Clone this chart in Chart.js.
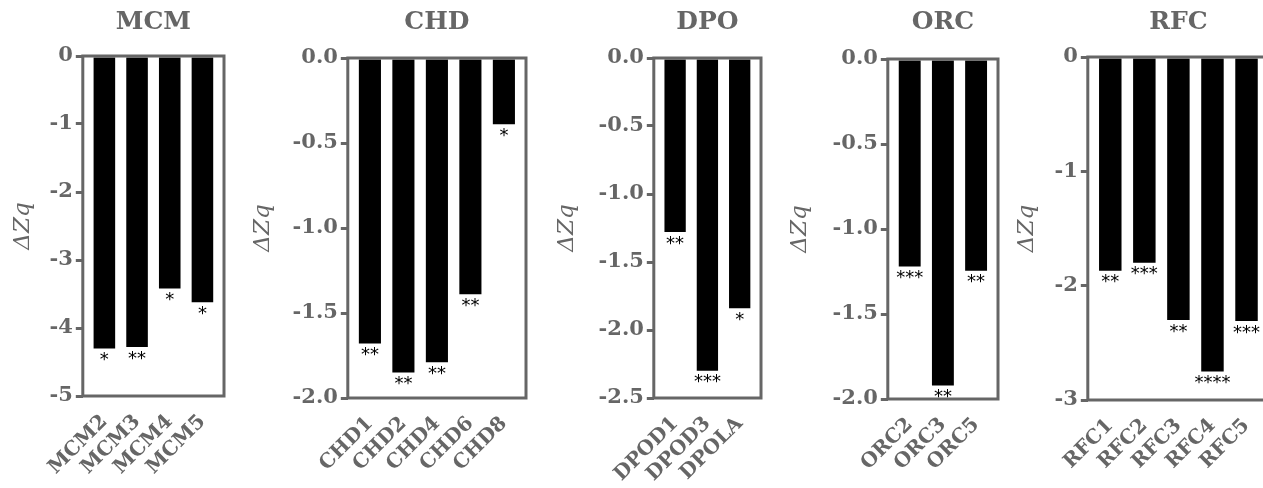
<!DOCTYPE html>
<html><head><meta charset="utf-8">
<script src="https://cdn.jsdelivr.net/npm/chart.js@4.4.1/dist/chart.umd.min.js"></script>
<style>
html,body{margin:0;padding:0;background:#fff;width:1263px;height:488px;overflow:hidden;position:relative}
canvas{position:absolute;top:0}
</style></head><body>
<script>
// ---- data ----
const mcmCategories = ['MCM2','MCM3','MCM4','MCM5'];
const mcmValues = [-4.30, -4.28, -3.42, -3.62];
const mcmStars = ['*','**','*','*'];
const mcmTicks = ['0','-1','-2','-3','-4','-5'];

const chdCategories = ['CHD1','CHD2','CHD4','CHD6','CHD8'];
const chdValues = [-1.68, -1.85, -1.79, -1.39, -0.39];
const chdStars = ['**','**','**','**','*'];
const chdTicks = ['0.0','-0.5','-1.0','-1.5','-2.0'];

const dpoCategories = ['DPOD1','DPOD3','DPOLA'];
const dpoValues = [-1.28, -2.30, -1.84];
const dpoStars = ['**','***','*'];
const dpoTicks = ['0.0','-0.5','-1.0','-1.5','-2.0','-2.5'];

const orcCategories = ['ORC2','ORC3','ORC5'];
const orcValues = [-1.22, -1.92, -1.245];
const orcStars = ['***','**','**'];
const orcTicks = ['0.0','-0.5','-1.0','-1.5','-2.0'];

const rfcCategories = ['RFC1','RFC2','RFC3','RFC4','RFC5'];
const rfcValues = [-1.87, -1.80, -2.30, -2.75, -2.31];
const rfcStars = ['**','***','**','****','***'];
const rfcTicks = ['0','-1','-2','-3'];

const yAxisTitle = 'ΔZq';

// ---- layout / style ----
const GRAY = '#666';
const H = 488;
const panels = [
  {title:'MCM', cats:mcmCategories, vals:mcmValues, stars:mcmStars, ticks:mcmTicks, L:82.7, R:224.3, T:56, B:396, d:60},
  {title:'CHD', cats:chdCategories, vals:chdValues, stars:chdStars, ticks:chdTicks, L:348, R:526.5, T:58, B:398, d:85},
  {title:'DPO', cats:dpoCategories, vals:dpoValues, stars:dpoStars, ticks:dpoTicks, L:654, R:761, T:58, B:398, d:87},
  {title:'ORC', cats:orcCategories, vals:orcValues, stars:orcStars, ticks:orcTicks, L:888, R:998, T:59, B:399, d:88},
  {title:'RFC', cats:rfcCategories, vals:rfcValues, stars:rfcStars, ticks:rfcTicks, L:1088, R:1269, T:57, B:400, d:61}
];

const boxPlugin = {
  id:'box',
  afterDatasetsDraw(chart){
    const {ctx, chartArea:a} = chart;
    ctx.save();
    ctx.strokeStyle = GRAY; ctx.lineWidth = 3;
    ctx.strokeRect(a.left, a.top, a.right - a.left, a.bottom - a.top);
    ctx.restore();
  }
};

function starPlugin(stars){
  return {
    id:'stars',
    afterDatasetsDraw(chart){
      const {ctx} = chart;
      const meta = chart.getDatasetMeta(0);
      ctx.save();
      ctx.font = '18px "DejaVu Sans"';
      ctx.fillStyle = '#000';
      ctx.textAlign = 'center';
      ctx.textBaseline = 'top';
      meta.data.forEach((bar, i) => ctx.fillText(stars[i], bar.x, bar.y + 3));
      ctx.restore();
    }
  };
}

panels.forEach(p => {
  const titleSize = 25, titleLH = titleSize * 1.2, titleTop = 7;
  const yTitleSize = 23;
  const yw = p.d + yTitleSize * 1.2 / 2;
  const rightPad = 14;
  const cw = Math.round(yw + (p.R - p.L) + rightPad);
  const c = document.createElement('canvas');
  c.width = cw; c.height = H;
  c.style.left = (p.L - yw) + 'px';
  document.body.appendChild(c);
  const tickVals = p.ticks.map(Number);
  const n = p.cats.length;
  new Chart(c, {
    type:'bar',
    data:{datasets:[{
      data: p.vals.map((v, i) => ({x:i, y:v})),
      backgroundColor:'#000', borderWidth:0,
      barPercentage:0.66, categoryPercentage:1
    }]},
    options:{
      responsive:false, animation:false, devicePixelRatio:1,
      layout:{padding:{left:0, right:rightPad, top:0, bottom:0}},
      plugins:{
        legend:{display:false}, tooltip:{enabled:false},
        title:{display:true, text:p.title, fullSize:false, color:GRAY,
          font:{family:'DejaVu Serif', size:titleSize, weight:'bold', lineHeight:1.2},
          padding:{top:titleTop, bottom:p.T - titleTop - titleLH}}
      },
      scales:{
        x:{
          type:'linear', offset:false, min:-0.66, max:n - 1 + 0.66,
          grid:{display:false, drawTicks:false}, border:{display:false},
          afterBuildTicks: s => { s.ticks = p.cats.map((_, i) => ({value:i})); },
          afterFit: s => { s.height = H - p.B; },
          ticks:{autoSkip:false, minRotation:45, maxRotation:45, padding:14, color:GRAY,
            font:{family:'DejaVu Serif', size:20, weight:'bold'},
            callback: v => p.cats[Math.round(v)]}
        },
        y:{
          min:tickVals[tickVals.length - 1], max:0,
          afterBuildTicks: s => { s.ticks = tickVals.map(v => ({value:v})); },
          afterFit: s => { s.width = yw; },
          grid:{display:true, drawOnChartArea:false, drawTicks:true, tickLength:7, color:GRAY, lineWidth:3},
          border:{display:false},
          ticks:{padding:3, color:GRAY, font:{family:'DejaVu Serif', size:21, weight:'bold'},
            callback: v => { const i = tickVals.findIndex(t => Math.abs(t - v) < 1e-9); return i >= 0 ? p.ticks[i] : ''; }},
          title:{display:true, text:yAxisTitle, color:GRAY, padding:0,
            font:{family:'DejaVu Serif', size:yTitleSize, style:'italic', lineHeight:1.2}}
        }
      }
    },
    plugins:[boxPlugin, starPlugin(p.stars)]
  });
});
</script>
</body></html>
